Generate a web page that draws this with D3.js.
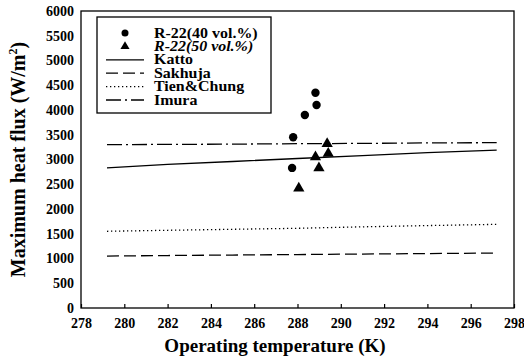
<!DOCTYPE html>
<html>
<head>
<meta charset="utf-8">
<script src="https://cdn.jsdelivr.net/npm/d3@7"></script>
<style>
  body { margin: 0; background: #fff; }
  svg text { font-family: "Liberation Serif", "DejaVu Serif", serif !important; font-weight: bold; fill: #000; }
</style>
</head>
<body>
<script>
// measured points
const r22_40_T = [287.75, 287.8, 288.34, 288.88, 288.83];
const r22_40_Q = [2830, 3450, 3900, 4100, 4350];
const r22_50_T = [288.06, 288.83, 288.99, 289.37, 289.42];
const r22_50_Q = [2420, 3050, 2830, 3320, 3120];

// correlations
const corrT = [279.2, 282, 285, 288, 291, 294, 297.2];
const kattoQ = [2830, 2900, 2960, 3020, 3080, 3140, 3190];
const sakhujaQ = [1050, 1060, 1070, 1080, 1090, 1100, 1110];
const tienQ = [1550, 1570, 1590, 1610, 1640, 1665, 1690];
const imuraQ = [3300, 3305, 3310, 3320, 3325, 3335, 3340];

const xTicks = [278, 280, 282, 284, 286, 288, 290, 292, 294, 296, 298];
const yTicks = [0, 500, 1000, 1500, 2000, 2500, 3000, 3500, 4000, 4500, 5000, 5500, 6000];

const W = 524, H = 358;
const m = {left: 81, right: 10, top: 11, bottom: 50};

const svg = d3.select("body").append("svg")
    .attr("width", W)
    .attr("height", H);

const x = d3.scaleLinear().domain([278, 298]).range([m.left, W - m.right]);
const y = d3.scaleLinear().domain([0, 6000]).range([H - m.bottom, m.top]);

// frame
svg.append("rect")
    .attr("x", x(278)).attr("y", y(6000))
    .attr("width", x(298) - x(278)).attr("height", y(0) - y(6000))
    .attr("fill", "none").attr("stroke", "#000").attr("stroke-width", 1.3);

// axes
const xAxis = svg.append("g")
    .attr("transform", `translate(0,${y(0)})`)
    .call(d3.axisBottom(x).tickValues(xTicks).tickFormat(d3.format("d"))
      .tickSizeInner(-4).tickSizeOuter(0).tickPadding(10));
const yAxis = svg.append("g")
    .attr("transform", `translate(${x(278)},0)`)
    .call(d3.axisLeft(y).tickValues(yTicks).tickFormat(d3.format("d"))
      .tickSizeInner(0).tickSizeOuter(0).tickPadding(7));
[xAxis, yAxis].forEach(g => {
  g.attr("font-family", null);
  g.select(".domain").remove();
  g.selectAll("line").attr("stroke", "#000").attr("stroke-width", 1.2);
  g.selectAll("text").attr("font-size", 14);
});

// correlation lines
const line = d3.line().x(d => x(d[0])).y(d => y(d[1]));
const series = [
  {name: "Katto", q: kattoQ, dash: null},
  {name: "Sakhuja", q: sakhujaQ, dash: "12,5"},
  {name: "Tien&Chung", q: tienQ, dash: "1.3,2.7"},
  {name: "Imura", q: imuraQ, dash: "15,4,2,4"}
];
series.forEach(s => {
  svg.append("path")
      .datum(corrT.map((t, i) => [t, s.q[i]]))
      .attr("d", line)
      .attr("fill", "none")
      .attr("stroke", "#000")
      .attr("stroke-width", 1.3)
      .attr("stroke-dasharray", s.dash);
});

// data points
svg.append("g").selectAll("circle")
    .data(r22_40_T.map((t, i) => [t, r22_40_Q[i]]))
    .enter().append("circle")
    .attr("cx", d => x(d[0])).attr("cy", d => y(d[1]))
    .attr("r", 4.2).attr("fill", "#000");

const tri = d3.symbol().type(d3.symbolTriangle).size(55);
svg.append("g").selectAll("path")
    .data(r22_50_T.map((t, i) => [t, r22_50_Q[i]]))
    .enter().append("path")
    .attr("d", tri)
    .attr("transform", d => `translate(${x(d[0])},${y(d[1])})`)
    .attr("fill", "#000");

// legend
const lg = svg.append("g");
lg.append("rect")
    .attr("x", 97).attr("y", 17).attr("width", 174).attr("height", 96)
    .attr("fill", "#fff").attr("stroke", "#000").attr("stroke-width", 1.3);
const rowY = d => 33 + d * 13.4;
const labels = ["R-22(40 vol.%)", "R-22(50 vol.%)", "Katto", "Sakhuja", "Tien&Chung", "Imura"];
lg.append("circle").attr("cx", 125).attr("cy", rowY(0)).attr("r", 3.5).attr("fill", "#000");
lg.append("path").attr("d", d3.symbol().type(d3.symbolTriangle).size(36))
    .attr("transform", `translate(125,${rowY(1)})`).attr("fill", "#000");
series.forEach((s, i) => {
  lg.append("line")
      .attr("x1", 106).attr("x2", 144)
      .attr("y1", rowY(i + 2)).attr("y2", rowY(i + 2))
      .attr("stroke", "#000").attr("stroke-width", 1.3)
      .attr("stroke-dasharray", s.dash);
});
labels.forEach((l, i) => {
  lg.append("text")
      .attr("transform", `translate(154,${rowY(i) + 4.5}) scale(1.14,1)`)
      .attr("font-size", 14)
      .style("font-style", i === 1 ? "italic" : "normal")
      .text(l);
});

// axis titles
svg.append("text")
    .attr("x", 275).attr("y", 352)
    .attr("text-anchor", "middle")
    .attr("font-size", 19)
    .text("Operating temperature (K)");

const yt = svg.append("text")
    .attr("transform", `translate(25,${(y(0) + y(6000)) / 2}) rotate(-90)`)
    .attr("text-anchor", "middle")
    .attr("font-size", 20);
yt.append("tspan").text("Maximum heat flux  (W/m");
yt.append("tspan").attr("font-size", 12).attr("dy", -8).text("2");
yt.append("tspan").attr("dy", 8).text(")");
</script>
</body>
</html>
